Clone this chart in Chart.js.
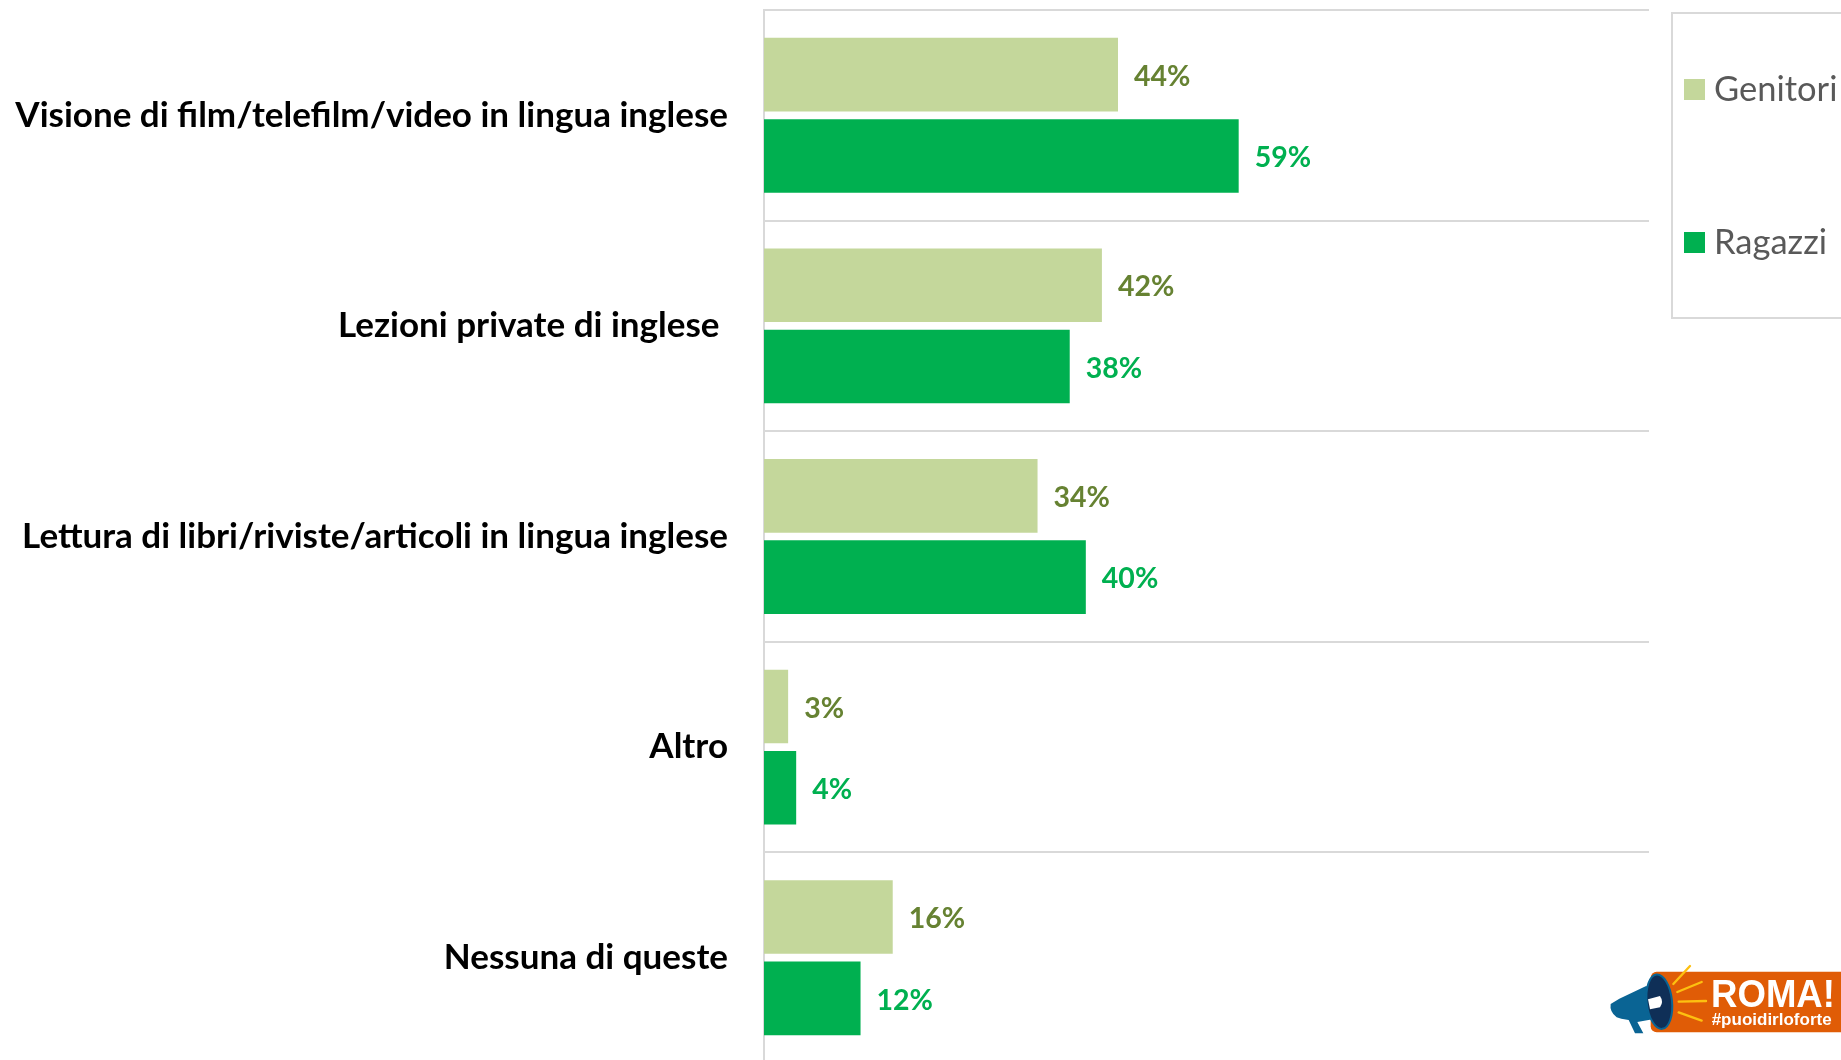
<!DOCTYPE html>
<html>
<head>
<meta charset="utf-8">
<title>Attività in lingua inglese</title>
<script src="https://cdn.jsdelivr.net/npm/chart.js@4"></script>
<style>
  html, body { margin: 0; padding: 0; background: #fff; overflow: hidden; }
  #wrap { position: relative; width: 1841px; height: 1060px; overflow: hidden; }
  #chart { position: absolute; left: 0; top: 0; }
  #legend { position: absolute; left: 1671px; top: 12px; width: 200px; height: 307px; border: 2px solid #d9d9d9; box-sizing: border-box; }
  .item { position: absolute; left: 0; height: 40px; white-space: nowrap; font: 34.5px/40px Lato, sans-serif; color: #595959; }
  .item i { position: absolute; left: 11px; top: 9px; width: 21px; height: 21px; }
  .item span { position: absolute; left: 41px; top: -2px; }
  #logo { position: absolute; left: 1580px; top: 920px; }
</style>
</head>
<body>
<div id="wrap">
  <canvas id="chart" width="1841" height="1075"></canvas>
  <div id="legend"></div>
  <svg id="logo" width="261" height="140" viewBox="0 0 783 420">
    <rect x="212" y="155" width="600" height="182" rx="18" fill="#e05c06"/>
    <path d="M280 192L330 138" stroke="#fdc010" stroke-width="7" stroke-linecap="round"/>
    <path d="M292 216L365 186M296 245L378 243M296 277L365 302" stroke="#fdc010" stroke-width="7" stroke-linecap="round"/>
    <path d="M200 197L118 236L92 252Q88 275 110 292L124 296L146 300L165 340L190 340L172 306L218 298Z" fill="#0a6494"/>
    <ellipse cx="238" cy="245" rx="38" ry="82" transform="rotate(-6 238 245)" fill="#0f2f57" stroke="#0a6494" stroke-width="6"/>
    <path d="M204 238L240 228Q252 245 240 262L210 268Z" fill="#fff"/>
    <text x="393" y="262" font-family="Liberation Sans" font-weight="700" font-size="118" fill="#fff" textLength="372" lengthAdjust="spacingAndGlyphs">ROMA!</text>
    <text x="395" y="316" font-family="Liberation Sans" font-weight="700" font-size="47" fill="#fff" textLength="360" lengthAdjust="spacingAndGlyphs">#puoidirloforte</text>
  </svg>
</div>
<script>
var categories = [
  "Visione di film/telefilm/video in lingua inglese",
  "Lezioni private di inglese ",
  "Lettura di libri/riviste/articoli in lingua inglese",
  "Altro",
  "Nessuna di queste"
];
var genitori = [44, 42, 34, 3, 16];
var ragazzi = [59, 38, 40, 4, 12];

// value labels next to the bars
var barLabels = {
  id: 'barLabels',
  afterDatasetsDraw: function(chart) {
    var ctx = chart.ctx;
    ctx.save();
    ctx.font = 'bold 28.5px Lato, sans-serif';
    ctx.textAlign = 'left';
    ctx.textBaseline = 'middle';
    chart.data.datasets.forEach(function(ds, d) {
      ctx.fillStyle = ds.labelColor;
      chart.getDatasetMeta(d).data.forEach(function(bar, i) {
        ctx.fillText(ds.data[i] + '%', bar.x + 16, bar.y + 2);
      });
    });
    ctx.restore();
  }
};

var chart = new Chart(document.getElementById('chart').getContext('2d'), {
  type: 'bar',
  data: {
    labels: categories,
    datasets: [
      { label: 'Genitori', data: genitori, backgroundColor: '#c4d79b', labelColor: '#668232' },
      { label: 'Ragazzi', data: ragazzi, backgroundColor: '#00b050', labelColor: '#00b050' }
    ]
  },
  options: {
    indexAxis: 'y',
    responsive: false,
    devicePixelRatio: 1,
    animation: false,
    categoryPercentage: 0.772,
    barPercentage: 0.905,
    layout: { padding: { top: 10, right: 192, bottom: 12, left: 0 } },
    plugins: { legend: { display: false }, tooltip: { enabled: false } },
    scales: {
      x: { display: false, min: 0, max: 110 },
      y: {
        afterFit: function(scale) {
          scale.width = 764;
          scale.paddingTop = 0;
          scale.paddingBottom = 0;
        },
        border: { color: '#d9d9d9', width: 2 },
        grid: { color: '#d9d9d9', lineWidth: 2, drawTicks: false },
        ticks: {
          autoSkip: false,
          padding: 36,
          color: '#000',
          font: { family: 'Lato, sans-serif', weight: 'bold', size: 35 }
        }
      }
    }
  },
  plugins: [barLabels]
});

// legend box built from the datasets
var legend = document.getElementById('legend');
chart.data.datasets.forEach(function(ds, i) {
  var item = document.createElement('div');
  item.className = 'item';
  item.style.top = (i === 0 ? 56 : 209) + 'px';
  item.innerHTML = '<i style="background:' + ds.backgroundColor + '"></i><span>' + ds.label + '</span>';
  legend.appendChild(item);
});
</script>
</body>
</html>
